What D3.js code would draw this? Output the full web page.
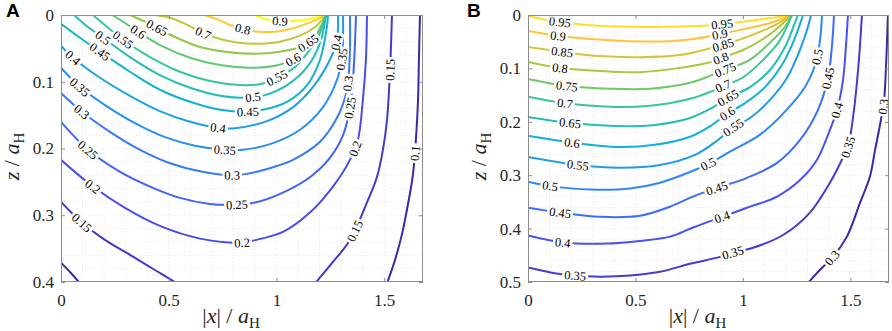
<!DOCTYPE html>
<html>
<head>
<meta charset="utf-8">
<script src="https://cdn.jsdelivr.net/npm/d3@7/dist/d3.min.js"></script>
<style>
  body { margin: 0; background: #fff; }
  svg { display: block; }
</style>
</head>
<body>
<svg id="vis" width="892" height="331"></svg>
<script>
// ---- data (x = |x|/aH, z = z/aH) ----
const xTicks = [0, 0.5, 1, 1.5];
const zTicksA = [0, 0.1, 0.2, 0.3, 0.4];
const zTicksB = [0, 0.1, 0.2, 0.3, 0.4, 0.5];

// contour lines of panel A: [level, points]
const linesA = [
  [0.9, [[0.900,0],[0.947,0.006],[1.016,0.009],[1.086,0.009],[1.155,0.006],[1.230,0]]],
  [0.8, [[0.668,0],[0.729,0.007],[0.784,0.015],[0.845,0.021],[0.914,0.025],[0.993,0.025],[1.086,0.019],[1.165,0.010],[1.230,0]]],
  [0.7, [[0.436,0],[0.506,0.004],[0.575,0.013],[0.659,0.027],[0.738,0.036],[0.831,0.042],[0.923,0.043],[1.016,0.040],[1.109,0.031],[1.179,0.018],[1.230,0]]],
  [0.65, [[0.320,0],[0.390,0.010],[0.445,0.019],[0.529,0.033],[0.645,0.048],[0.761,0.055],[0.900,0.058],[1.016,0.055],[1.100,0.049],[1.155,0.040],[1.202,0.022],[1.230,0]]],
  [0.6, [[0.237,0],[0.297,0.012],[0.357,0.025],[0.459,0.045],[0.599,0.064],[0.738,0.075],[0.877,0.079],[0.993,0.076],[1.077,0.067],[1.146,0.048],[1.193,0.025],[1.230,0]]],
  [0.55, [[0.148,0],[0.218,0.019],[0.288,0.037],[0.413,0.063],[0.552,0.085],[0.691,0.099],[0.831,0.105],[0.933,0.103],[1.002,0.094],[1.086,0.078],[1.155,0.052],[1.202,0.027],[1.230,0]]],
  [0.5, [[0.060,0],[0.125,0.018],[0.195,0.034],[0.320,0.063],[0.459,0.090],[0.599,0.109],[0.738,0.121],[0.831,0.124],[0.891,0.123],[0.947,0.120],[1.049,0.105],[1.142,0.078],[1.202,0.042],[1.230,0]]],
  [0.45, [[0,0.013],[0.088,0.034],[0.181,0.055],[0.320,0.085],[0.459,0.112],[0.599,0.130],[0.738,0.142],[0.868,0.145],[0.937,0.142],[1.049,0.130],[1.142,0.105],[1.202,0.067],[1.234,0.018],[1.239,0]]],
  [0.4, [[0,0.046],[0.056,0.064],[0.181,0.094],[0.320,0.121],[0.459,0.144],[0.599,0.160],[0.729,0.169],[0.798,0.170],[0.956,0.159],[1.077,0.138],[1.169,0.108],[1.248,0.067],[1.281,0.037],[1.285,0]]],
  [0.35, [[0,0.079],[0.088,0.108],[0.204,0.135],[0.343,0.162],[0.483,0.183],[0.622,0.196],[0.761,0.202],[0.845,0.202],[0.984,0.192],[1.109,0.172],[1.216,0.138],[1.281,0.097],[1.304,0.064],[1.309,0.030],[1.309,0]]],
  [0.3, [[0,0.117],[0.097,0.145],[0.227,0.175],[0.367,0.202],[0.506,0.222],[0.645,0.234],[0.794,0.240],[0.863,0.238],[0.984,0.228],[1.077,0.217],[1.202,0.190],[1.281,0.154],[1.318,0.124],[1.332,0.102],[1.341,0.052],[1.341,0]]],
  [0.25, [[0,0.160],[0.125,0.202],[0.274,0.235],[0.413,0.257],[0.552,0.274],[0.691,0.283],[0.817,0.284],[0.900,0.281],[1.030,0.266],[1.155,0.243],[1.248,0.214],[1.309,0.180],[1.341,0.139],[1.355,0.097],[1.364,0.045],[1.369,0]]],
  [0.2, [[0,0.217],[0.148,0.257],[0.297,0.289],[0.459,0.316],[0.645,0.335],[0.840,0.341],[0.891,0.338],[1.030,0.325],[1.155,0.296],[1.262,0.257],[1.341,0.217],[1.378,0.187],[1.401,0.127],[1.415,0.067],[1.420,0]]],
  [0.15, [[0,0.280],[0.097,0.311],[0.204,0.337],[0.334,0.362],[0.436,0.382],[0.538,0.402]]],
  [0.15, [[1.179,0.402],[1.262,0.370],[1.341,0.337],[1.425,0.277],[1.466,0.243],[1.494,0.202],[1.513,0.157],[1.527,0.082],[1.536,0]]],
  [0.1, [[0,0.371],[0.042,0.385],[0.088,0.402]]],
  [0.1, [[1.513,0.402],[1.550,0.367],[1.582,0.329],[1.610,0.284],[1.633,0.240],[1.647,0.187],[1.657,0.127],[1.661,0.067],[1.666,0]]]
];

// inline labels of panel A: [level, x, z]
const labelsA = [
  [0.9,1.016,0.007],[0.8,0.845,0.021],[0.7,0.659,0.027],
  [0.65,0.445,0.019],[0.65,1.155,0.045],
  [0.6,0.357,0.025],[0.6,1.077,0.067],
  [0.55,0.288,0.037],[0.55,1.002,0.094],
  [0.5,0.195,0.034],[0.5,0.891,0.123],
  [0.45,0.181,0.055],[0.45,0.868,0.145],
  [0.4,0.056,0.064],[0.4,0.729,0.169],[0.4,1.285,0.042],
  [0.35,0.088,0.108],[0.35,0.761,0.202],[0.35,1.309,0.067],
  [0.3,0.097,0.145],[0.3,0.794,0.240],[0.3,1.327,0.102],
  [0.25,0.125,0.202],[0.25,0.817,0.284],[0.25,1.341,0.139],
  [0.2,0.148,0.257],[0.2,0.840,0.341],[0.2,1.378,0.202],
  [0.15,0.097,0.311],[0.15,1.374,0.325],[0.15,1.527,0.082],
  [0.1,1.643,0.207]
];

// contour lines of panel B
const linesB = [
  [0.95, [[0,0.002],[0.079,0.009],[0.149,0.013],[0.289,0.019],[0.475,0.022],[0.661,0.022],[0.847,0.019],[0.987,0.013],[1.103,0.007],[1.228,0]]],
  [0.9, [[0,0.030],[0.140,0.039],[0.289,0.045],[0.475,0.049],[0.661,0.049],[0.800,0.043],[0.893,0.036],[1.010,0.026],[1.126,0.015],[1.228,0]]],
  [0.85, [[0,0.060],[0.158,0.069],[0.335,0.077],[0.521,0.079],[0.707,0.075],[0.824,0.065],[0.907,0.056],[1.033,0.039],[1.149,0.019],[1.228,0]]],
  [0.8, [[0,0.088],[0.149,0.099],[0.335,0.105],[0.521,0.107],[0.707,0.099],[0.833,0.090],[0.903,0.080],[1.010,0.064],[1.126,0.036],[1.228,0]]],
  [0.75, [[0,0.120],[0.181,0.133],[0.382,0.138],[0.568,0.138],[0.754,0.127],[0.847,0.114],[0.926,0.101],[1.024,0.086],[1.126,0.052],[1.196,0.022],[1.228,0]]],
  [0.7, [[0,0.153],[0.172,0.165],[0.382,0.172],[0.568,0.170],[0.754,0.157],[0.847,0.144],[0.907,0.133],[0.996,0.118],[1.094,0.084],[1.173,0.047],[1.228,0]]],
  [0.65, [[0,0.191],[0.195,0.202],[0.405,0.208],[0.591,0.206],[0.754,0.193],[0.856,0.174],[0.931,0.155],[1.033,0.135],[1.126,0.103],[1.196,0.060],[1.238,0.019],[1.256,0]]],
  [0.6, [[0,0.226],[0.205,0.239],[0.405,0.247],[0.591,0.243],[0.754,0.228],[0.856,0.206],[0.926,0.185],[1.010,0.165],[1.103,0.135],[1.187,0.090],[1.242,0.043],[1.280,0]]],
  [0.55, [[0,0.266],[0.233,0.281],[0.428,0.286],[0.614,0.281],[0.777,0.262],[0.884,0.234],[0.954,0.211],[1.033,0.193],[1.126,0.159],[1.205,0.118],[1.266,0.065],[1.303,0.022],[1.317,0]]],
  [0.5, [[0,0.312],[0.102,0.320],[0.289,0.327],[0.475,0.325],[0.614,0.314],[0.754,0.294],[0.838,0.279],[0.940,0.256],[1.080,0.224],[1.196,0.181],[1.289,0.135],[1.336,0.094],[1.359,0.047],[1.368,0]]],
  [0.45, [[0,0.361],[0.149,0.370],[0.335,0.378],[0.521,0.376],[0.661,0.359],[0.768,0.340],[0.879,0.324],[1.019,0.305],[1.159,0.277],[1.266,0.234],[1.349,0.178],[1.396,0.118],[1.415,0.056],[1.424,0]]],
  [0.4, [[0,0.413],[0.163,0.426],[0.368,0.428],[0.521,0.423],[0.661,0.415],[0.768,0.398],[0.903,0.378],[1.019,0.361],[1.159,0.340],[1.266,0.309],[1.345,0.271],[1.405,0.215],[1.438,0.178],[1.466,0.122],[1.480,0.056],[1.489,0]]],
  [0.35, [[0,0.473],[0.116,0.483],[0.219,0.488],[0.335,0.490],[0.475,0.488],[0.614,0.481],[0.754,0.466],[0.893,0.453],[0.954,0.445],[1.047,0.436],[1.187,0.412],[1.312,0.370],[1.405,0.314],[1.461,0.271],[1.489,0.247],[1.517,0.178],[1.540,0.084],[1.554,0]]],
  [0.3, [[1.303,0.502],[1.359,0.477],[1.415,0.455],[1.484,0.415],[1.545,0.352],[1.591,0.303],[1.615,0.253],[1.638,0.206],[1.657,0.159],[1.666,0.097],[1.671,0.047],[1.675,0]]]
];

const labelsB = [
  [0.95,0.149,0.013],[0.95,0.903,0.017],
  [0.9,0.140,0.039],[0.9,0.893,0.036],
  [0.85,0.158,0.069],[0.85,0.907,0.056],
  [0.8,0.149,0.099],[0.8,0.898,0.082],
  [0.75,0.181,0.133],[0.75,0.917,0.101],
  [0.7,0.172,0.165],[0.7,0.907,0.133],
  [0.65,0.195,0.202],[0.65,0.931,0.155],
  [0.6,0.205,0.239],[0.6,0.931,0.187],
  [0.55,0.233,0.281],[0.55,0.954,0.211],
  [0.5,0.102,0.320],[0.5,0.838,0.279],[0.5,1.349,0.079],
  [0.45,0.149,0.370],[0.45,0.879,0.324],[0.45,1.396,0.118],
  [0.4,0.163,0.426],[0.4,0.903,0.378],[0.4,1.438,0.178],
  [0.35,0.219,0.488],[0.35,0.954,0.445],[0.35,1.489,0.247],
  [0.3,1.415,0.455],[0.3,1.657,0.172]
];

// parula colour map (8 stops)
const parula = ['#3e26a8','#4852f4','#2e87f7','#12b1d6','#37c897','#abc739','#fec338','#f9fb15'];

const serif = "'Liberation Serif', 'Times New Roman', serif";
const svg = d3.select('#vis');
const defs = svg.append('defs');
const fmt = d3.format('~g');

function drawPanel(p) {
  const x = d3.scaleLinear().domain([0, p.xMax]).range([p.left, p.right]);
  const y = d3.scaleLinear().domain([0, p.zMax]).range([p.top, p.bottom]);
  const color = d3.scaleLinear()
    .domain(parula.map((c, i) => p.cmin + (p.cmax - p.cmin) * i / (parula.length - 1)))
    .range(parula)
    .interpolate(d3.interpolateRgb)
    .clamp(true);

  const g = svg.append('g').attr('font-family', serif);

  defs.append('clipPath').attr('id', 'clip' + p.id)
    .append('rect')
    .attr('x', p.left).attr('y', p.top)
    .attr('width', p.right - p.left).attr('height', p.bottom - p.top);

  // dotted grid
  const grid = g.append('g').attr('fill', 'none');
  grid.selectAll('.gx').data(d3.range(0.1, p.xMax, 0.1)).join('line')
    .attr('x1', d => x(d)).attr('x2', d => x(d))
    .attr('y1', p.top).attr('y2', p.bottom)
    .attr('stroke', '#d6d6d6').attr('stroke-width', 0.6).attr('stroke-dasharray', '1,2');
  grid.selectAll('.gz').data(d3.range(0.02, p.zMax - 1e-9, 0.02)).join('line')
    .attr('y1', d => y(d)).attr('y2', d => y(d))
    .attr('x1', p.left).attr('x2', p.right)
    .attr('stroke', '#d6d6d6').attr('stroke-width', 0.6).attr('stroke-dasharray', '1,2');

  // contour lines, gaps cut for the labels with a mask
  const mask = defs.append('mask').attr('id', 'mask' + p.id)
    .attr('maskUnits', 'userSpaceOnUse')
    .attr('x', 0).attr('y', 0).attr('width', 892).attr('height', 331);
  mask.append('rect').attr('x', 0).attr('y', 0).attr('width', 892).attr('height', 331).attr('fill', 'white');

  const lineGen = d3.line()
    .x(d => x(d[0])).y(d => y(d[1]))
    .curve(d3.curveCatmullRom.alpha(0.5));

  const lg = g.append('g').attr('clip-path', `url(#clip${p.id})`)
    .append('g').attr('mask', `url(#mask${p.id})`);
  const paths = lg.selectAll('path').data(p.lines).join('path')
    .attr('d', d => lineGen(d[1]))
    .attr('fill', 'none')
    .attr('stroke', d => color(d[0]))
    .attr('stroke-width', 2)
    .attr('stroke-linejoin', 'round');

  const tg = g.append('g');
  p.labels.forEach(([lev, lx, lz]) => {
    const tx = x(lx), ty = y(lz);
    let best = null;
    paths.filter(d => Math.abs(d[0] - lev) < 1e-6).each(function () {
      const len = this.getTotalLength();
      for (let s = 0; s <= len; s += 0.5) {
        const pt = this.getPointAtLength(s);
        const dd = (pt.x - tx) ** 2 + (pt.y - ty) ** 2;
        if (!best || dd < best.dd) best = { dd, s, node: this, pt, len };
      }
    });
    if (!best) return;
    const a = best.node.getPointAtLength(Math.max(0, best.s - 5));
    const b = best.node.getPointAtLength(Math.min(best.len, best.s + 5));
    let ang = Math.atan2(b.y - a.y, b.x - a.x) * 180 / Math.PI;
    if (ang > 90) ang -= 180;
    if (ang < -90) ang += 180;
    const tr = `translate(${best.pt.x},${best.pt.y}) rotate(${ang})`;
    const t = tg.append('text')
      .attr('transform', tr)
      .attr('text-anchor', 'middle')
      .attr('dy', '0.35em')
      .attr('font-size', 12.5)
      .attr('fill', '#000')
      .text(fmt(lev));
    const w = t.node().getComputedTextLength();
    mask.append('rect')
      .attr('transform', tr)
      .attr('x', -w / 2 - 2).attr('y', -6)
      .attr('width', w + 4).attr('height', 12)
      .attr('fill', 'black');
  });

  // axes with inward ticks on all four sides
  const styleAxis = sel => {
    sel.attr('font-family', serif).attr('font-size', 17);
    sel.select('.domain').remove();
    sel.selectAll('.tick line').attr('stroke', '#8c8c8c');
    sel.selectAll('.tick text').attr('fill', '#262626');
  };
  g.append('g').attr('transform', `translate(0,${p.bottom})`)
    .call(d3.axisBottom(x).tickValues(xTicks).tickSize(-4).tickPadding(12).tickFormat(fmt))
    .call(styleAxis);
  g.append('g').attr('transform', `translate(0,${p.top})`)
    .call(d3.axisTop(x).tickValues(xTicks).tickSize(-4).tickFormat(''))
    .call(styleAxis);
  g.append('g').attr('transform', `translate(${p.left},0)`)
    .call(d3.axisLeft(y).tickValues(p.zTicks).tickSize(-4).tickPadding(7).tickFormat(fmt))
    .call(styleAxis);
  g.append('g').attr('transform', `translate(${p.right},0)`)
    .call(d3.axisRight(y).tickValues(p.zTicks).tickSize(-4).tickFormat(''))
    .call(styleAxis);

  g.append('rect')
    .attr('x', p.left + 0.5).attr('y', p.top + 0.5)
    .attr('width', p.right - p.left - 1).attr('height', p.bottom - p.top - 1)
    .attr('fill', 'none').attr('stroke', '#8c8c8c').attr('stroke-width', 1);

  // axis titles
  const xt = g.append('text')
    .attr('x', (p.left + p.right) / 2 - 11).attr('y', 323)
    .attr('text-anchor', 'middle').attr('font-size', 22).attr('fill', '#262626');
  xt.append('tspan').text('|');
  xt.append('tspan').attr('font-style', 'italic').text('x');
  xt.append('tspan').text('| / ');
  xt.append('tspan').attr('font-style', 'italic').text('a');
  xt.append('tspan').attr('font-size', 15).attr('dy', 5).text('H');

  const yt = g.append('text')
    .attr('transform', `translate(${p.left - 42},${(p.top + p.bottom) / 2 + 8}) rotate(-90)`)
    .attr('text-anchor', 'middle').attr('font-size', 22).attr('fill', '#262626');
  yt.append('tspan').attr('font-style', 'italic').text('z');
  yt.append('tspan').text(' / ');
  yt.append('tspan').attr('font-style', 'italic').text('a');
  yt.append('tspan').attr('font-size', 15).attr('dy', 5).text('H');

  // panel letter
  svg.append('text')
    .attr('x', p.letterX).attr('y', 17)
    .attr('font-family', "'Liberation Sans', Arial, sans-serif")
    .attr('font-weight', 'bold').attr('font-size', 19).attr('fill', '#000')
    .text(p.id);
}

drawPanel({ id: 'A', left: 61, right: 423, top: 15, bottom: 282, xMax: 1.68, zMax: 0.4,
  zTicks: zTicksA, lines: linesA, labels: labelsA, cmin: 0.1, cmax: 0.9, letterX: 6 });
drawPanel({ id: 'B', left: 528, right: 889, top: 15, bottom: 282, xMax: 1.68, zMax: 0.5,
  zTicks: zTicksB, lines: linesB, labels: labelsB, cmin: 0.3, cmax: 1.0, letterX: 467 });
</script>
</body>
</html>
